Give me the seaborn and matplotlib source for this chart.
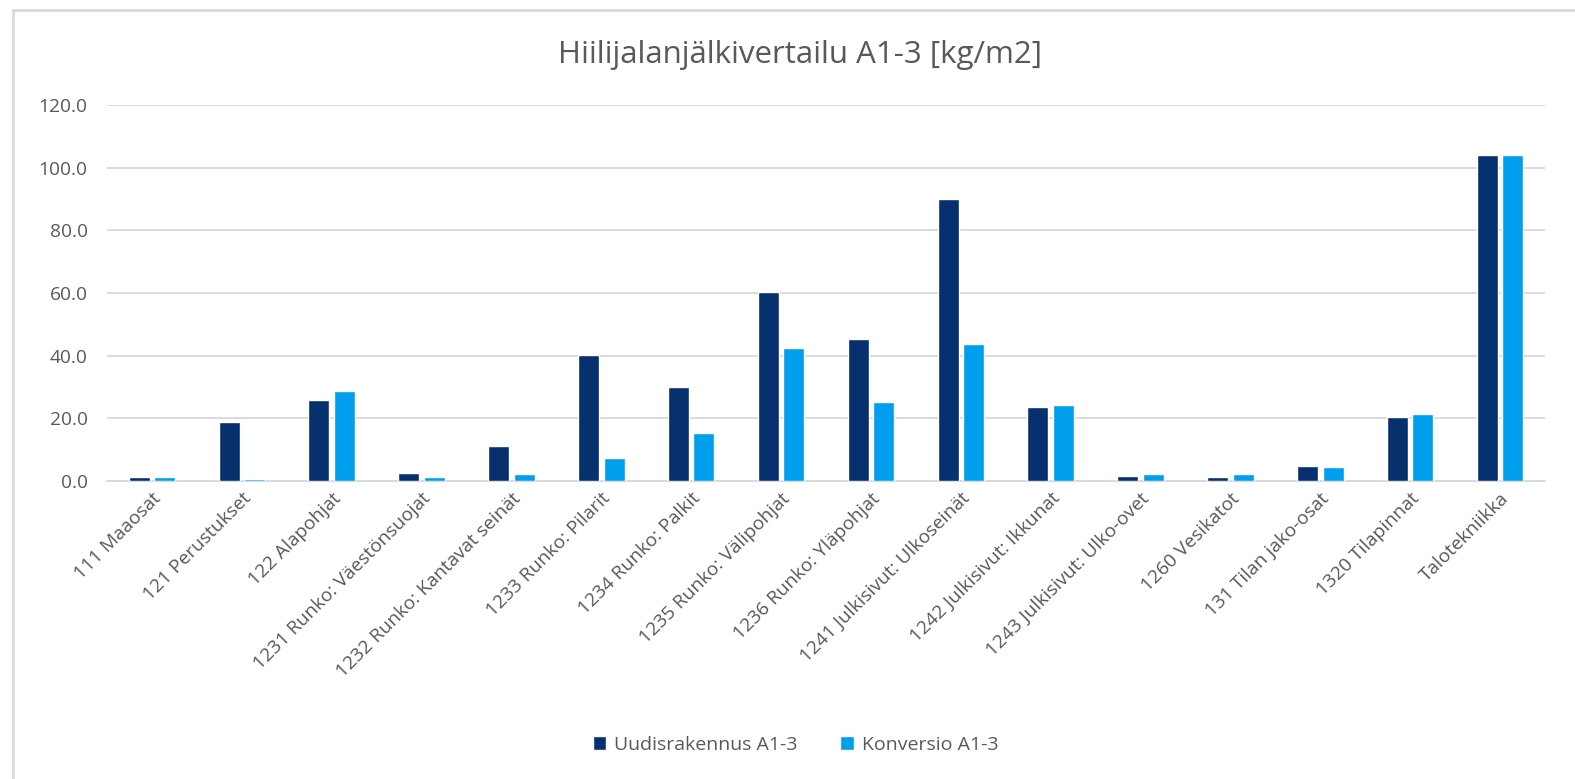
import pandas as pd
import matplotlib.pyplot as plt
import seaborn as sns
from matplotlib.patches import Rectangle

categories = ["111 Maaosat", "121 Perustukset", "122 Alapohjat", "1231 Runko: Väestönsuojat",
              "1232 Runko: Kantavat seinät", "1233 Runko: Pilarit", "1234 Runko: Palkit",
              "1235 Runko: Välipohjat", "1236 Runko: Yläpohjat", "1241 Julkisivut: Ulkoseinät",
              "1242 Julkisivut: Ikkunat", "1243 Julkisivut: Ulko-ovet", "1260 Vesikatot",
              "131 Tilan jako-osat", "1320 Tilapinnat", "Talotekniikka"]
uudis = [1.3, 18.8, 26.0, 2.6, 11.2, 40.2, 30.0, 60.4, 45.3, 89.9, 23.6, 1.7, 1.3, 4.9, 20.4, 104.0]
konversio = [1.3, 0.5, 28.6, 1.3, 2.1, 7.4, 15.4, 42.6, 25.3, 43.7, 24.4, 2.1, 2.1, 4.5, 21.3, 104.0]
series = ["Uudisrakennus A1-3", "Konversio A1-3"]
colors = ["#06306e", "#009fee"]

df = pd.DataFrame({
    "category": categories * 2,
    "value": uudis + konversio,
    "series": [series[0]] * len(categories) + [series[1]] * len(categories),
})

sns.set_style("white")
plt.rcParams["font.family"] = ["Open Sans", "DejaVu Sans"]

fig = plt.figure(figsize=(15.75, 7.79), dpi=100)
ax = fig.add_axes([107 / 1575, 1 - 481 / 779, 1438 / 1575, 376 / 779])

sns.barplot(data=df, x="category", y="value", hue="series", palette=colors, saturation=1,
            width=0.57, gap=0.18, ax=ax, legend=True)
for p in ax.patches:
    p.set_zorder(3)

ax.set_ylim(0, 120)
ax.set_yticks(range(0, 121, 20))
ax.set_yticklabels([f"{v:.1f}" for v in range(0, 121, 20)])
ax.set_xlim(-0.5, len(categories) - 0.5)
ax.yaxis.grid(True, color="#d9d9d9", linewidth=1.3)
ax.set_axisbelow(True)
for s in ["top", "right", "left"]:
    ax.spines[s].set_visible(False)
ax.spines["bottom"].set_color("#d9d9d9")
ax.spines["bottom"].set_linewidth(1.3)
ax.set_xlabel("")
ax.set_ylabel("")
ax.tick_params(axis="both", length=0, labelsize=13.8, colors="#595959", pad=14)
ax.tick_params(axis="x", pad=6)
plt.setp(ax.get_xticklabels(), rotation=45, ha="right", rotation_mode="anchor")

fig.text(0.508, 1 - 55 / 779, "Hiilijalanjälkivertailu A1-3 [kg/m2]", ha="center", va="center",
         fontsize=22.5, color="#595959")

handles, labels = ax.get_legend_handles_labels()
ax.legend(handles, labels, loc="center", bbox_to_anchor=(0.505, 1 - 745 / 779), bbox_transform=fig.transFigure,
          ncol=2, frameon=False, fontsize=14, handlelength=0.7, handleheight=0.7,
          columnspacing=2.2, handletextpad=0.4, labelcolor="#595959")

fig.patches.append(Rectangle((13 / 1575, -0.1), 1.2, 1.1 - 10 / 779, transform=fig.transFigure,
                             fill=False, edgecolor="#d9d9d9", linewidth=2, zorder=-1))

fig.savefig("out.png", dpi=100, facecolor="white")
